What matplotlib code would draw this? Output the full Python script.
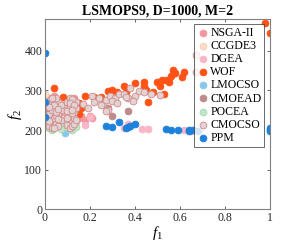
import matplotlib
matplotlib.use("Agg")
import matplotlib.pyplot as plt

plt.rcParams['font.family'] = ['Liberation Serif', 'DejaVu Serif']
plt.rcParams['mathtext.fontset'] = 'custom'
plt.rcParams['mathtext.it'] = 'Liberation Serif:italic'
plt.rcParams['mathtext.rm'] = 'Liberation Serif'

title = "LSMOPS9, D=1000, M=2"
x_ticks = [0, 0.2, 0.4, 0.6, 0.8, 1]
x_tick_labels = ["0", "0.2", "0.4", "0.6", "0.8", "1"]
y_ticks = [0, 100, 200, 300, 400]

nsga2_f1 = [0.00, 0.01, 0.02, 0.02, 0.03, 0.03, 0.04, 0.04, 0.05, 0.05, 0.06, 0.06, 0.07,
            0.02, 0.03, 0.04, 0.05, 0.06, 0.03, 0.05, 0.04, 0.02, 0.06, 0.03,
            0.10, 0.11, 0.11, 0.12, 0.12, 0.13, 0.13, 0.14, 0.11, 0.12, 0.13, 0.12,
            0.11, 0.13, 0.14, 0.15, 0.16, 0.18, 0.20, 0.21, 0.08]
nsga2_f2 = [245, 265, 280, 230, 270, 250, 240, 260, 225, 275, 255, 235, 245,
            215, 212, 220, 218, 222, 240, 245, 285, 255, 265, 228,
            235, 275, 250, 265, 230, 245, 280, 240, 220, 215, 225, 255,
            262, 270, 230, 230, 235, 225, 235, 230, 250]

ccgde3_f1 = [0.00, 0.01, 0.03, 0.04]
ccgde3_f2 = [290, 270, 255, 240]

dgea_f1 = [0.00, 0.03, 0.05, 0.10, 0.14, 0.18, 0.20, 0.35, 0.37, 0.43, 0.46, 0.62, 0.65]
dgea_f2 = [225, 270, 240, 250, 220, 212, 232, 205, 215, 203, 202, 200, 198]

wof_f1 = [0.98, 1.00, 0.04, 0.08, 0.10, 0.11, 0.12, 0.15, 0.16, 0.18, 0.22, 0.25, 0.28,
          0.30, 0.32, 0.35, 0.36, 0.40, 0.44, 0.44, 0.45, 0.46, 0.48, 0.50, 0.51, 0.52,
          0.53, 0.54, 0.55, 0.56, 0.57, 0.58, 0.61, 0.62, 0.15, 0.13, 0.06]
wof_f2 = [470, 445, 305, 282, 270, 262, 275, 268, 255, 285, 282, 283, 298,
          300, 297, 310, 295, 318, 322, 310, 300, 270, 297, 322, 310, 327,
          292, 325, 320, 335, 352, 343, 333, 345, 240, 250, 260]

lmocso_f1 = [0.09, 0.03, 0.12]
lmocso_f2 = [193, 215, 222]

cmoead_f1 = [0.02, 0.04, 0.05, 0.06, 0.11, 0.12, 0.13, 0.28, 0.30, 0.37, 0.03, 0.12,
             0.04, 0.13]
cmoead_f2 = [250, 235, 260, 225, 245, 225, 260, 255, 235, 248, 215, 215,
             270, 272]

pocea_f1 = [0.02, 0.03, 0.04, 0.07, 0.07, 0.11, 0.12, 0.13, 0.05, 0.12, 0.10, 0.14]
pocea_f2 = [205, 200, 210, 210, 203, 210, 205, 215, 215, 200, 207, 208]

cmocso_f1 = [0.02, 0.03, 0.03, 0.04, 0.04, 0.05, 0.05, 0.06, 0.06, 0.07, 0.08,
             0.02, 0.03, 0.04, 0.05, 0.06, 0.02, 0.03, 0.05, 0.07, 0.04, 0.06,
             0.03, 0.05, 0.04, 0.06, 0.02,
             0.10, 0.11, 0.11, 0.12, 0.12, 0.13, 0.13, 0.14,
             0.10, 0.11, 0.12, 0.13, 0.14, 0.11, 0.12, 0.13, 0.10, 0.12, 0.14,
             0.11, 0.13, 0.12, 0.10,
             0.17, 0.19, 0.21, 0.22, 0.24, 0.26, 0.27, 0.28, 0.29, 0.31, 0.33,
             0.35, 0.37, 0.38, 0.40, 0.42, 0.44, 0.47, 0.51, 0.67, 0.67,
             0.25, 0.27, 0.30, 0.32, 0.36, 0.39]
cmocso_f2 = [240, 265, 225, 275, 250, 215, 260, 240, 270, 225, 250,
             210, 250, 230, 280, 210, 222, 205, 235, 262, 205, 228,
             280, 245, 262, 252, 258,
             270, 280, 235, 260, 220, 275, 245, 255,
             212, 205, 210, 230, 270, 258, 242, 215, 248, 278, 225,
             268, 262, 250, 230,
             265, 255, 285, 270, 280, 265, 275, 250, 285, 280, 290,
             290, 280, 305, 285, 298, 295, 290, 288, 390, 345,
             262, 248, 272, 268, 282, 272]

ppm_f1 = [0.00, 0.00, 0.00, 0.27, 0.30, 0.33, 0.36, 0.37, 0.38, 0.40, 0.54, 0.56, 0.59,
          0.64, 0.64, 0.66, 0.68, 1.00, 1.00, 1.00]
ppm_f2 = [393, 270, 234, 210, 207, 220, 205, 208, 210, 215, 202, 200, 200,
          200, 197, 200, 198, 206, 197, 200]

series = [
    ("NSGA-II", nsga2_f1, nsga2_f2, "#F5959F", "#F5959F"),
    ("CCGDE3", ccgde3_f1, ccgde3_f2, "#FCDDC6", "#F5CDB5"),
    ("DGEA", dgea_f1, dgea_f2, "#F9B6C6", "#F9B6C6"),
    ("WOF", wof_f1, wof_f2, "#FF5214", "#FF5214"),
    ("LMOCSO", lmocso_f1, lmocso_f2, "#87C8EA", "#87C8EA"),
    ("CMOEAD", cmoead_f1, cmoead_f2, "#BE8A8A", "#BE8A8A"),
    ("POCEA", pocea_f1, pocea_f2, "#BEE6C8", "#A8D8B4"),
    ("CMOCSO", cmocso_f1, cmocso_f2, "#E2D2D2", "#D08A8A"),
    ("PPM", ppm_f1, ppm_f2, "#1E82DC", "#1E82DC"),
]

fig = plt.figure(figsize=(2.99, 2.49), dpi=100)
ax = fig.add_axes([0.1505, 0.159, 0.7525, 0.765])

for name, xs, ys, fc, ec in series:
    ax.scatter(xs, ys, s=24, c=fc, edgecolors=ec, linewidths=0.6, label=name, zorder=2)

ax.set_xlim(0, 1)
ax.set_ylim(0, 480)
ax.set_xticks(x_ticks)
ax.set_xticklabels(x_tick_labels)
ax.set_yticks(y_ticks)
ax.tick_params(direction='in', length=2.5, width=0.5, labelsize=8.5, top=True, right=True,
               colors='#262626', pad=2)
for sp in ax.spines.values():
    sp.set_color('#808080')
    sp.set_linewidth(0.8)

ax.set_title(title, fontsize=10, fontweight='bold', pad=3)
ax.set_xlabel(r'$f_1$', fontsize=11, labelpad=0)
ax.set_ylabel(r'$f_2$', fontsize=11, labelpad=0)

leg = ax.legend(loc='upper right', bbox_to_anchor=(0.975, 0.975), fontsize=8.5,
                frameon=True, fancybox=False, handletextpad=0.1, borderpad=0.25,
                labelspacing=0.1, handlelength=1.0, borderaxespad=0)
leg.get_frame().set_edgecolor('#262626')
leg.get_frame().set_linewidth(0.6)

fig.savefig("out.png", dpi=100)
